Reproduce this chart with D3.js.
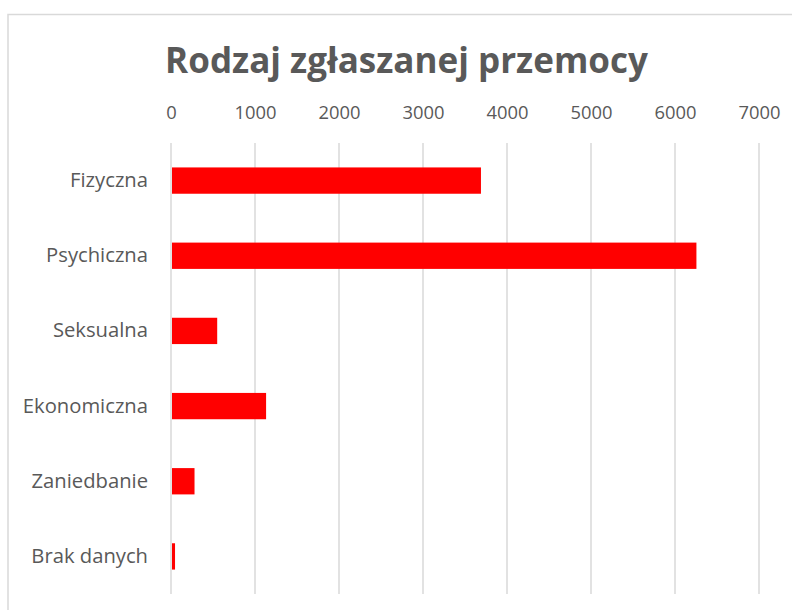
<!DOCTYPE html>
<html>
<head>
<meta charset="utf-8">
<script src="https://cdn.jsdelivr.net/npm/d3@7"></script>
<style>
  html, body { margin: 0; padding: 0; background: #ffffff; }
  svg { display: block; }
</style>
</head>
<body>
<script>
const title = "Rodzaj zgłaszanej przemocy";
const categories = ["Fizyczna", "Psychiczna", "Seksualna", "Ekonomiczna", "Zaniedbanie", "Brak danych"];
const values = [3690, 6255, 550, 1132, 280, 48];
const tickValues = [0, 1000, 2000, 3000, 4000, 5000, 6000, 7000];

const W = 792, H = 610;
const svg = d3.select("body").append("svg").attr("width", W).attr("height", H);

// chart border
svg.append("rect")
  .attr("x", 8).attr("y", 14.5).attr("width", 800).attr("height", 620)
  .attr("fill", "#ffffff").attr("stroke", "#d9d9d9").attr("stroke-width", 1.5);

const plot = { left: 171, right: 759, top: 143, bottom: 594 };

const x = d3.scaleLinear().domain([0, 7000]).range([plot.left, plot.right]);
const y = d3.scaleBand().domain(categories).range([plot.top, plot.bottom]).paddingInner(0.65).paddingOuter(0.325);

const font = "'Open Sans', 'Liberation Sans', sans-serif";

// helper to fit font size to a target width
function fitSize(text, weight, targetWidth) {
  const t = svg.append("text").attr("font-family", font).attr("font-weight", weight)
    .attr("font-size", 100).text(text);
  const w = t.node().getComputedTextLength();
  t.remove();
  return 100 * targetWidth / w;
}

// gridlines
svg.append("g")
  .selectAll("line").data(tickValues).join("line")
  .attr("x1", d => x(d)).attr("x2", d => x(d))
  .attr("y1", plot.top).attr("y2", plot.bottom)
  .attr("stroke", "#d9d9d9").attr("stroke-width", 1.5);

// top axis labels
const tickSize = fitSize("1000", 400, 42);
const xAxis = d3.axisTop(x).tickValues(tickValues).tickSize(0).tickPadding(0).tickFormat(d3.format("d"));
const gx = svg.append("g").attr("transform", `translate(0,${119})`).call(xAxis);
gx.select(".domain").remove();
gx.selectAll("text").attr("font-family", font).attr("font-size", tickSize).attr("fill", "#595959").attr("dy", 0);

// category axis
const catSize = fitSize("Psychiczna", 400, 102);
const yAxis = d3.axisLeft(y).tickSize(0).tickPadding(0);
const gy = svg.append("g").attr("transform", `translate(${148},0)`).call(yAxis);
gy.select(".domain").remove();
gy.selectAll("text").attr("font-family", font).attr("font-size", catSize).attr("fill", "#595959");

// bars
svg.append("g")
  .selectAll("rect").data(categories).join("rect")
  .attr("x", x(0) + 1)
  .attr("y", d => y(d))
  .attr("width", (d, i) => x(values[i]) - x(0) - 1)
  .attr("height", y.bandwidth())
  .attr("fill", "#ff0000");

// title
const titleSize = fitSize(title, 700, 483);
svg.append("text")
  .attr("x", 406.5).attr("y", 73)
  .attr("text-anchor", "middle")
  .attr("font-family", font).attr("font-weight", 700)
  .attr("font-size", titleSize)
  .attr("fill", "#595959")
  .text(title);
</script>
</body>
</html>
